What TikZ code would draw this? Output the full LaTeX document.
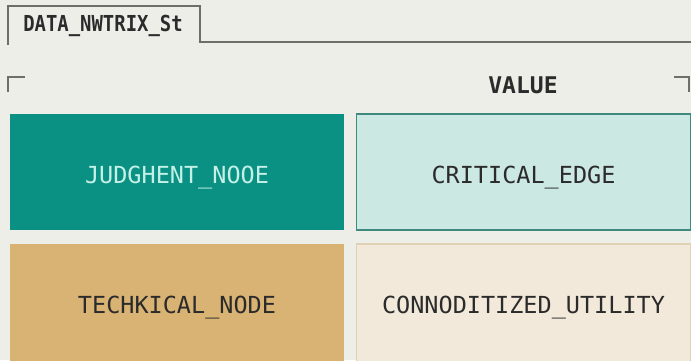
\documentclass[tikz,border=0pt]{standalone}
\usepackage{fontspec}
\setmonofont{DejaVu Sans Mono}
\usetikzlibrary{positioning}
\definecolor{paper}{HTML}{EEEEE9}
\definecolor{rule}{HTML}{6E6E6A}
\definecolor{tealdark}{HTML}{0B9183}
\definecolor{teallite}{HTML}{CBE8E2}
\definecolor{tealedge}{HTML}{3E8A7F}
\definecolor{tealtext}{HTML}{C4F0E8}
\definecolor{tan}{HTML}{D9B373}
\definecolor{cream}{HTML}{F2E9DB}
\definecolor{creamedge}{HTML}{E0D0B4}
\definecolor{ink}{HTML}{2B2B2B}

\begin{document}
\begin{tikzpicture}[x=1pt, y=-1pt,
    cell/.style={rectangle, minimum width=334pt, minimum height=116pt, inner sep=0pt,
      text height=22pt, text depth=0pt,
      font=\ttfamily\fontsize{23.5}{28}\selectfont, text=ink},
    lowcell/.style={cell, minimum height=120pt, text height=18pt},
    tabline/.style={rule, line width=2pt},
    cornermark/.style={rule, line width=2.5pt}]
    \fill[paper] (0,0) rectangle (691,360);
    \useasboundingbox (0,0) rectangle (691,360);
    \clip (0,0) rectangle (691,360);

    \coordinate (tabbl) at (8,45);
    \coordinate (tabtl) at (8,6);
    \coordinate (tabtr) at (200,6);
    \coordinate (tabbr) at (200,42);
    \coordinate (lineend) at (693,42);
    \draw[tabline] (tabbl) -- (tabtl) -- (tabtr) -- (tabbr) -- (lineend);
    \node[font=\ttfamily\bfseries\fontsize{22}{26}\selectfont, text=ink] (tabname) at (103,26)
      {\scalebox{0.86}[1]{DATA\_NWTRIX\_St}};

    \coordinate (cl1) at (8,92);
    \coordinate (cl2) at (8,77);
    \coordinate (cl3) at (25,77);
    \draw[cornermark] (cl1) -- (cl2) -- (cl3);
    \coordinate (cr1) at (674,77);
    \coordinate (cr2) at (689,77);
    \coordinate (cr3) at (689,92);
    \draw[cornermark] (cr1) -- (cr2) -- (cr3);

    \node[font=\ttfamily\bfseries\fontsize{23}{27}\selectfont, text=ink] (value) at (523,85) {VALUE};

    \node[cell, fill=tealdark, text=tealtext] (judgment) at (177,172) {JUDGHENT\_NOOE};
    \node[cell, fill=teallite, draw=tealedge, line width=1.2pt] (critical) at (523.5,172) {CRITICAL\_EDGE};
    \node[lowcell, fill=tan] (technical) at (177,304) {TECHKICAL\_NODE};
    \node[lowcell, fill=cream, draw=creamedge, line width=1.2pt] (utility) at (523.5,304) {CONNODITIZED\_UTILITY};
\end{tikzpicture}
\end{document}
